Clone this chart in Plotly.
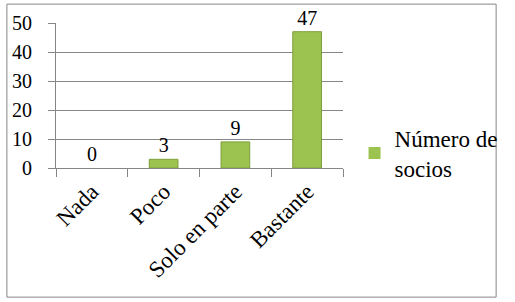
import plotly.graph_objects as go

categories = ["Nada", "Poco", "Solo en parte", "Bastante"]
values = [0, 3, 9, 47]
series_name = "Número de<br>socios"

W, H = 515, 302
L, R, T, B = 54, 352, 22, 168

def px_x(p):
    return (p - L) / (R - L)

def px_y(p):
    return (B - p) / (B - T)

fig = go.Figure()
fig.add_trace(go.Bar(
    x=categories, y=values, name=series_name,
    marker=dict(color="#9CC34F",
                line=dict(color="#7E9E3B", width=[0 if v == 0 else 1 for v in values])),
    width=0.4,
    text=[str(v) for v in values], textposition="outside",
    textfont=dict(family="Liberation Serif", size=20, color="#000000"),
    cliponaxis=False, showlegend=True,
))

fig.update_layout(
    width=W, height=H,
    margin=dict(l=L, r=W - R, t=T, b=H - B),
    paper_bgcolor="white", plot_bgcolor="white",
    font=dict(family="Liberation Serif", size=20, color="#000000"),
    showlegend=True,
    legend=dict(x=px_x(364), y=px_y(153), xanchor="left", yanchor="middle",
                font=dict(family="Liberation Serif", size=23, color="#000000"),
                bgcolor="rgba(0,0,0,0)", itemwidth=30, tracegroupgap=0),
    xaxis=dict(type="category", tickson="boundaries", ticks="outside", ticklen=8,
               tickcolor="#868686", showline=True, linecolor="#868686", linewidth=1,
               showgrid=False, tickangle=-45,
               tickfont=dict(family="Liberation Serif", size=23, color="#000000")),
    yaxis=dict(range=[0, 50], dtick=10, ticks="outside", ticklen=7, tickcolor="#868686",
               showline=True, linecolor="#868686", linewidth=1, ticklabelstandoff=12,
               showgrid=True, gridcolor="#868686", gridwidth=1, zeroline=False,
               tickfont=dict(family="Liberation Serif", size=20, color="#000000")),
    bargap=0.6,
)

fig.add_shape(type="rect", xref="paper", yref="paper",
              x0=px_x(3), x1=px_x(511), y0=px_y(298), y1=px_y(3),
              line=dict(color="#868686", width=1), fillcolor="rgba(0,0,0,0)", layer="below")

fig.write_html("out.html")
